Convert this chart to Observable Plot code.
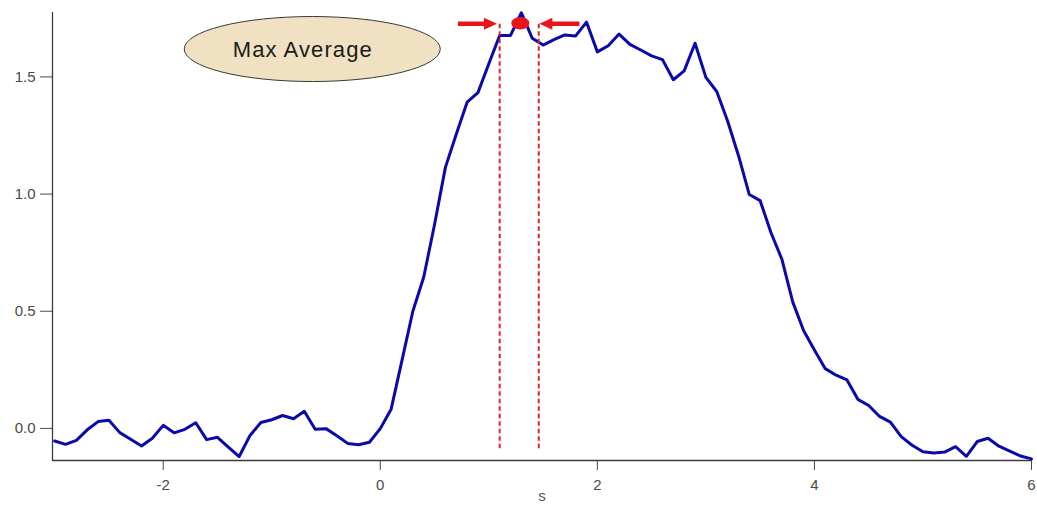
<!DOCTYPE html>
<html>
<head>
<meta charset="utf-8">
<script src="https://cdn.jsdelivr.net/npm/d3@7"></script>
<script src="https://cdn.jsdelivr.net/npm/@observablehq/plot@0.6"></script>
<style>
  html, body { margin: 0; padding: 0; background: #fff; }
</style>
</head>
<body>
<div id="chart"></div>
<script>
// Sample positions along s
const sValues = [
  -3.0, -2.9, -2.8, -2.7, -2.6, -2.5, -2.4, -2.3, -2.2, -2.1,
  -2.0, -1.9, -1.8, -1.7, -1.6, -1.5, -1.4, -1.3, -1.2, -1.1,
  -1.0, -0.9, -0.8, -0.7, -0.6, -0.5, -0.4, -0.3, -0.2, -0.1,
   0.0,  0.1,  0.2,  0.3,  0.4,  0.5,  0.6,  0.7,  0.8,  0.9,
   1.0,  1.1,  1.2,  1.3,  1.4,  1.5,  1.6,  1.7,  1.8,  1.9,
   2.0,  2.1,  2.2,  2.3,  2.4,  2.5,  2.6,  2.7,  2.8,  2.9,
   3.0,  3.1,  3.2,  3.3,  3.4,  3.5,  3.6,  3.7,  3.8,  3.9,
   4.0,  4.1,  4.2,  4.3,  4.4,  4.5,  4.6,  4.7,  4.8,  4.9,
   5.0,  5.1,  5.2,  5.3,  5.4,  5.5,  5.6,  5.7,  5.8,  5.9,
   6.0
];

// Averaged signal at each position
const signal = [
  -0.054, -0.068, -0.051, -0.006,  0.029,  0.035, -0.018, -0.046, -0.075, -0.042,
   0.013, -0.019, -0.004,  0.024, -0.048, -0.038, -0.080, -0.120, -0.030,  0.025,
   0.037,  0.055,  0.041,  0.073, -0.004, -0.001, -0.031, -0.064, -0.070, -0.059,
  -0.001,  0.082,  0.290,  0.500,  0.645,  0.870,  1.114,  1.255,  1.392,  1.433,
   1.556,  1.677,  1.677,  1.774,  1.665,  1.636,  1.659,  1.679,  1.675,  1.734,
   1.607,  1.633,  1.683,  1.639,  1.615,  1.590,  1.574,  1.488,  1.526,  1.644,
   1.498,  1.438,  1.312,  1.165,  0.998,  0.972,  0.835,  0.722,  0.540,  0.418,
   0.335,  0.255,  0.227,  0.207,  0.124,  0.098,  0.051,  0.027, -0.035, -0.072,
  -0.100, -0.105, -0.101, -0.078, -0.119, -0.056, -0.042, -0.076, -0.097, -0.118,
  -0.130
];

const xTicks = [-2, 0, 2, 4, 6];
const yTicks = [0.0, 0.5, 1.0, 1.5];
const xDomain = [-3.02, 6];
const yDomain = [-0.137, 1.775];

// Averaging window around the maximum
const windowEdges = [1.1, 1.46];
const windowSpan = [-0.087, 1.727];
const maxMarker = [{s: 1.295, value: 1.727}];
const arrowSpans = [
  {from: 0.72, to: 1.08, value: 1.725},
  {from: 1.84, to: 1.47, value: 1.725}
];
const badge = [{s: -0.622, value: 1.617, text: "Max Average"}];

const rows = sValues.map((s, i) => ({s, value: signal[i]}));
const windowRows = windowEdges.map(s => ({s, y1: windowSpan[0], y2: windowSpan[1]}));

const RED = "#e8161b";

// Beige ellipse behind the label
const badgeShape = (index, {x, y}) => {
  const g = d3.create("svg:g");
  for (const d of badge) {
    g.append("ellipse")
      .attr("cx", x(d.s)).attr("cy", y(d.value))
      .attr("rx", 128).attr("ry", 32.5)
      .attr("fill", "#efe1c1")
      .attr("stroke", "#3a3a3a")
      .attr("stroke-width", 1);
  }
  return g.node();
};

// Filled arrows pointing at the window edges
const arrowShapes = (index, {x, y}) => {
  const g = d3.create("svg:g").attr("fill", RED);
  for (const a of arrowSpans) {
    const x0 = x(a.from), x1 = x(a.to), yy = y(a.value);
    const dir = Math.sign(x1 - x0);
    const head = 13, half = 6, shaft = 2.2;
    const xb = x1 - dir * head;
    g.append("path").attr("d",
      `M${x0},${yy - shaft}L${xb},${yy - shaft}L${xb},${yy - half}L${x1},${yy}` +
      `L${xb},${yy + half}L${xb},${yy + shaft}L${x0},${yy + shaft}Z`);
  }
  return g.node();
};

// Oval marker at the maximum
const maxShape = (index, {x, y}) => {
  const g = d3.create("svg:g");
  for (const d of maxMarker) {
    g.append("ellipse")
      .attr("cx", x(d.s)).attr("cy", y(d.value))
      .attr("rx", 9).attr("ry", 6.2)
      .attr("fill", RED);
  }
  return g.node();
};

const chart = Plot.plot({
  width: 1037,
  height: 512,
  marginLeft: 52,
  marginRight: 6,
  marginTop: 12,
  marginBottom: 52,
  style: {
    fontFamily: "'Liberation Sans', Arial, sans-serif",
    fontSize: "15px",
    color: "#4a4a4a",
    background: "#fff"
  },
  x: {domain: xDomain, ticks: xTicks, tickFormat: d => String(d), tickSize: 10, tickPadding: 9, label: null},
  y: {domain: yDomain, ticks: yTicks, tickFormat: d3.format(".1f"), tickSize: 12, tickPadding: 5, label: null},
  marks: [
    Plot.ruleY([yDomain[0]], {stroke: "#3c3c3c", strokeWidth: 1.3}),
    Plot.ruleX([xDomain[0]], {stroke: "#3c3c3c", strokeWidth: 1.3}),
    Plot.text(["s"], {frameAnchor: "bottom", dy: 40, fill: "#555", fontSize: 15}),
    badgeShape,
    Plot.text(badge, {x: "s", y: "value", text: "text", dx: -10, fontSize: 22, fill: "#1a1a1a"}),
    Plot.line(rows, {x: "s", y: "value", stroke: "#0a0aaa", strokeWidth: 3, strokeLinejoin: "round"}),
    Plot.ruleX(windowRows, {x: "s", y1: "y1", y2: "y2", stroke: "#d8262a", strokeWidth: 2, strokeDasharray: "4.5,3"}),
    arrowShapes,
    maxShape
  ]
});

// Slightly looser tracking for the badge label
d3.select(chart).selectAll("text")
  .filter(function () { return this.textContent === badge[0].text; })
  .attr("letter-spacing", "1.1");

document.getElementById("chart").appendChild(chart);
</script>
</body>
</html>
